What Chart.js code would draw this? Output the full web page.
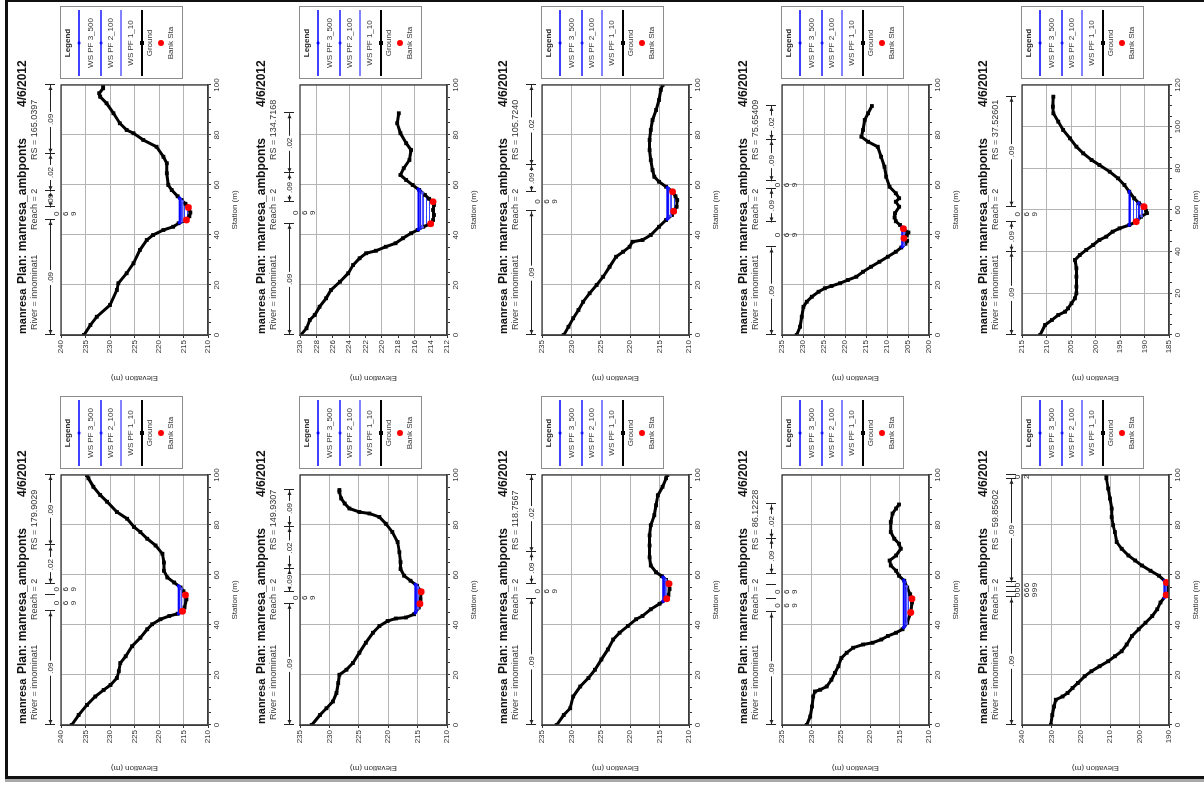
<!DOCTYPE html>
<html>
<head>
<meta charset="utf-8">
<script src="https://cdn.jsdelivr.net/npm/chart.js@4.4.1/dist/chart.umd.min.js"></script>
<style>
  html, body { margin: 0; padding: 0; background: #fff; width: 1204px; height: 785px; overflow: hidden; }
  /* the sheet is laid out upright (785 x 1204) and turned a quarter turn to the left */
  #sheet { position: absolute; left: 0; top: 0; width: 785px; height: 1204px;
           transform-origin: 0 0; transform: translateY(785px) rotate(-90deg); }
  .panel { position: absolute; width: 390px; height: 240px; }
  .panel canvas { display: block; }
  #frame { position: absolute; left: 5px; top: 0; width: 1199px; height: 779px; box-sizing: border-box;
           border-left: 3px solid #111; border-top: 2px solid #111; border-bottom: 3px solid #111; }
  #edge { position: absolute; left: 5px; top: 779px; width: 1199px; height: 3px; background: #a9a9a9; }
</style>
</head>
<body>
<div id="sheet"></div>
<div id="frame"></div>
<div id="edge"></div>
<script>
// ---- common header text ----
const PROJECT = 'manresa';
const PLAN = 'manresa_ambponts';
const PLAN_DATE = '4/6/2012';
const RIVER = 'innominat1';
const REACH = '2';
const PROFILES = ['WS PF 3_500', 'WS PF 2_100', 'WS PF 1_10'];

// ---- RS 179.9029 ----
const sta179 = [0, 4, 8, 11.4, 14, 16, 18.8, 21.5, 24.8, 27.5, 31.5, 34.9, 38.3, 40.3, 42.3, 43.6, 44.5, 45.5, 47, 50.3, 52, 53.5, 55, 57, 59, 61.7, 65, 68.5, 71.8, 74.5, 77.2, 79.2, 82.5, 85.2, 89.3, 92, 95.3, 98.7, 100];
const elev179 = [237.8, 236.4, 234.7, 233.0, 231.3, 229.9, 228.6, 228.2, 227.9, 226.8, 225.5, 223.8, 222.4, 221.4, 219.7, 217.9, 216.2, 215.2, 214.8, 214.4, 214.6, 215.0, 215.6, 216.9, 218.3, 219.0, 219.0, 219.3, 220.7, 222.4, 223.8, 225.1, 226.5, 228.6, 230.6, 232.0, 233.4, 234.4, 234.7];
const bankSta179 = [45.5, 52], bankElev179 = [215.2, 214.6];
const ws179 = [216.0, 215.8, 215.4], wsFrom179 = [44.6, 44.8, 45.2], wsTo179 = [55.6, 55.3, 54.5];
const nBreaks179 = [0, 45.5, 52, 56.5, 71.8, 100], nVals179 = ['.09', '069', '069', '.02', '.09'];
const yAxis179 = [210, 240, 5, 5];

// ---- RS 165.0397 ----
const sta165 = [0, 4, 7.3, 12, 18, 20.7, 24.7, 28.7, 34, 38, 40, 42, 43.3, 44.7, 46, 47.5, 49, 51, 52.5, 54, 55.5, 58, 60, 64.7, 68.7, 71.3, 75.3, 78, 80.7, 82, 84.7, 88.7, 92.7, 95.3, 96.7, 98.7, 100];
const elev165 = [235.3, 234.0, 232.7, 230.0, 228.6, 228.3, 226.6, 225.2, 223.9, 222.5, 221.2, 219.1, 217.1, 216.0, 214.4, 213.8, 213.6, 214.0, 214.6, 215.4, 216.2, 217.4, 218.1, 218.4, 218.4, 219.1, 220.5, 223.2, 225.2, 226.6, 228.0, 229.3, 230.7, 232.0, 232.2, 231.4, 231.4];
const bankSta165 = [46, 51], bankElev165 = [214.4, 214.0];
const ws165 = [215.8, 215.6, 215.2], wsFrom165 = [44.9, 45.2, 45.6], wsTo165 = [54.7, 54.3, 53.5];
const nBreaks165 = [0, 46, 51, 57.5, 72.5, 100], nVals165 = ['.09', '069', '.09', '.02', '.09'];
const yAxis165 = [210, 240, 5, 5];

// ---- RS 149.9307 ----
const sta149 = [0, 4, 6.7, 9.4, 12.8, 16.8, 20.1, 22.1, 24.8, 28.9, 32.9, 36.9, 39.6, 41.6, 42.6, 43, 44.3, 47, 48.5, 50.3, 53.3, 55.7, 57.7, 59.7, 62.4, 65.1, 69.1, 73.2, 77.2, 80.5, 83.2, 84.6, 85.2, 86.6, 88.6, 90.6, 93.3, 94];
const elev149 = [233.0, 231.6, 230.5, 229.4, 228.8, 228.5, 228.3, 227.1, 226.0, 224.9, 223.8, 222.6, 221.5, 220.1, 218.7, 217.0, 215.6, 214.8, 214.6, 214.5, 214.4, 215.1, 216.2, 217.3, 217.9, 217.9, 218.1, 218.4, 219.3, 220.4, 221.5, 223.2, 224.9, 226.6, 227.4, 228.0, 228.3, 228.3];
const bankSta149 = [48.5, 53.3], bankElev149 = [214.6, 214.4];
const ws149 = [215.4, 215.2, 214.9], wsFrom149 = [44.9, 45.6, 46.7], wsTo149 = [56.2, 55.9, 55.0];
const nBreaks149 = [0, 48.5, 53.3, 62.4, 79.2, 94], nVals149 = ['.09', '069', '.09', '.02', '.09'];
const yAxis149 = [210, 235, 5, 5];

// ---- RS 134.7168 ----
const sta134 = [0, 2.7, 6, 8, 11.3, 14.7, 18, 21.3, 24.7, 28, 30.7, 32.7, 33.7, 35.3, 36.7, 38.7, 40.7, 42, 43.3, 44.5, 46, 48, 50, 52, 53.3, 54.5, 56, 58, 60, 62, 64, 66.7, 70, 74, 76.7, 80.7, 84.7, 88.7];
const elev134 = [229.9, 229.2, 228.8, 228.2, 227.6, 226.8, 226.2, 225.1, 224.1, 223.5, 222.7, 221.9, 220.7, 219.5, 218.3, 217.4, 216.4, 215.6, 214.9, 214.0, 213.7, 213.6, 213.7, 213.6, 213.7, 214.2, 214.7, 215.4, 216.2, 217.0, 217.7, 217.3, 216.6, 216.4, 217.0, 217.7, 218.1, 217.9];
const bankSta134 = [44.5, 53.3], bankElev134 = [214.0, 213.7];
const ws134 = [215.5, 215.3, 215.0], wsFrom134 = [42.2, 42.6, 43.1], wsTo134 = [58.3, 57.7, 56.9];
const nBreaks134 = [0, 44.5, 53.3, 64.7, 88.7], nVals134 = ['.09', '069', '.09', '.02'];
const yAxis134 = [212, 230, 2, 4];

// ---- RS 118.7567 ----
const sta118 = [0, 4, 6.7, 11.4, 15.4, 18.8, 22.1, 26.2, 30.2, 34.2, 36.9, 39.6, 42.3, 43.6, 46.3, 48.5, 50.5, 52, 54.4, 56.5, 58, 59.5, 61.1, 63.8, 67.1, 71.8, 75.8, 79.9, 83.9, 87.9, 91.9, 95.3, 98.7, 100];
const elev118 = [232.5, 231.3, 230.2, 229.7, 228.5, 227.1, 226.0, 224.9, 223.8, 222.9, 221.8, 220.4, 219.0, 217.9, 216.5, 215.0, 213.8, 213.5, 213.3, 213.4, 213.9, 214.6, 215.6, 216.5, 216.7, 216.7, 216.7, 216.5, 215.9, 215.6, 215.3, 214.5, 213.9, 213.7];
const bankSta118 = [50.5, 56.5], bankElev118 = [213.8, 213.4];
const ws118 = [214.4, 214.2, 213.9], wsFrom118 = [49.5, 49.8, 50.3], wsTo118 = [59.1, 58.6, 58.0];
const nBreaks118 = [0, 50.5, 56.5, 69.1, 100], nVals118 = ['.09', '069', '.09', '.02'];
const yAxis118 = [210, 235, 5, 5];

// ---- RS 105.7240 ----
const sta105 = [0, 3.3, 6.7, 10, 13.3, 16.7, 20, 23.3, 27.3, 31.3, 33.3, 35.3, 37.3, 38, 40, 43.3, 46, 48, 49.5, 51.3, 54, 55.5, 57.3, 59.3, 61.3, 63.3, 66, 70, 74, 78, 82, 86, 90, 94, 98, 100];
const elev105 = [231.3, 230.5, 229.7, 228.8, 228.0, 226.9, 225.7, 224.6, 223.5, 222.4, 221.2, 220.1, 219.6, 217.9, 216.5, 215.1, 213.9, 212.9, 212.6, 212.1, 212.0, 212.3, 212.8, 213.9, 215.1, 215.9, 216.2, 216.5, 216.7, 216.7, 216.5, 216.2, 215.6, 215.1, 214.8, 214.5];
const bankSta105 = [49.5, 57.3], bankElev105 = [212.6, 212.8];
const ws105 = [213.7, 213.5, 213.1], wsFrom105 = [46.4, 46.8, 47.6], wsTo105 = [58.9, 58.6, 57.8];
const nBreaks105 = [0, 49.5, 57.3, 68, 100], nVals105 = ['.09', '069', '.09', '.02'];
const yAxis105 = [210, 235, 5, 5];

// ---- RS 86.12228 ----
const sta86 = [0, 3.4, 7.4, 11.4, 13.4, 14.1, 15.4, 18.1, 20.8, 23.5, 26.8, 28.9, 30.9, 32.2, 32.9, 34.2, 35.6, 36.9, 38.3, 40.9, 45, 49, 50.5, 52.3, 55, 57.7, 59.7, 61.7, 63.8, 65.8, 67.8, 70.5, 72.5, 74.5, 77.2, 81.2, 84.6, 86.6, 88.2];
const elev86 = [230.8, 230.2, 229.9, 229.7, 229.4, 228.5, 227.4, 226.6, 226.0, 225.4, 224.9, 224.0, 222.9, 221.2, 219.6, 218.1, 217.0, 215.6, 214.5, 213.7, 213.1, 212.9, 212.9, 213.2, 213.7, 214.2, 215.1, 215.6, 216.5, 216.7, 215.6, 214.8, 215.1, 215.9, 216.5, 216.5, 216.2, 215.6, 215.1];
const bankSta86 = [45, 50.5], bankElev86 = [213.1, 212.9];
const ws86 = [214.3, 214.1, 213.8], wsFrom86 = [39.0, 39.6, 40.6], wsTo86 = [57.9, 57.2, 55.5];
const nBreaks86 = [0, 45, 50.5, 56, 60.5, 74.5, 88.2], nVals86 = ['.09', '069', '069', '', '.09', '.02'];
const yAxis86 = [210, 235, 5, 5];

// ---- RS 75.65409 ----
const sta75 = [0, 3.3, 7.3, 11.3, 13.3, 15.3, 17.3, 18.7, 19.6, 20.7, 22, 23.3, 25.3, 27.3, 29.3, 31.3, 33.3, 35, 36.5, 37.7, 38.7, 39.8, 41, 42.5, 44, 45.5, 47, 48.7, 51.3, 53.3, 54.7, 56.7, 59.3, 63.3, 67.3, 71.3, 75.3, 77.3, 79.3, 82, 86, 88.7, 91.6];
const elev75 = [231.5, 230.7, 230.3, 229.9, 229.1, 227.9, 226.3, 224.8, 223.2, 221.2, 219.3, 217.3, 215.7, 213.8, 211.8, 209.8, 207.9, 206.6, 205.6, 205.2, 206.0, 205.3, 204.9, 206.1, 206.9, 207.9, 208.2, 208.1, 207.1, 207.9, 207.1, 207.9, 209.4, 210.2, 210.6, 211.4, 212.2, 214.5, 216.1, 215.7, 215.3, 214.5, 213.6];
const bankSta75 = [38.7, 42.5], bankElev75 = [206.0, 206.1];
const ws75 = [206.4, 206.2, 205.9], wsFrom75 = [35.3, 35.6, 36.1], wsTo75 = [43.1, 42.7, 42.3];
const nBreaks75 = [0, 35, 45, 58.5, 61.5, 78, 91.6], nVals75 = ['.09', '069', '.09', '069', '.09', '.02'];
const yAxis75 = [200, 235, 5, 5];

// ---- RS 59.85602 ----
const sta59 = [0, 4, 7.4, 10.1, 11.4, 12.8, 14.8, 16.8, 19.5, 21.5, 23.5, 25.5, 27.5, 29.5, 32.2, 35.6, 38.3, 40.9, 43.6, 46.3, 49, 52, 54.4, 57, 59.7, 61.7, 63.8, 65.8, 67.8, 70.5, 73.2, 77.2, 79.9, 83.2, 86.6, 90.6, 94.6, 98.7, 100];
const elev59 = [230.2, 229.7, 229.1, 228.5, 226.2, 224.5, 222.8, 221.0, 218.7, 216.4, 213.6, 210.7, 208.4, 206.1, 204.4, 202.6, 200.3, 198.0, 195.7, 194.0, 192.9, 191.0, 190.2, 190.9, 193.4, 196.3, 199.2, 201.5, 203.8, 206.1, 207.8, 208.4, 209.0, 209.5, 209.5, 210.1, 210.7, 211.3, 211.3];
const bankSta59 = [52, 57], bankElev59 = [191.0, 190.9];
const ws59 = [191.6, 191.3, 190.9], wsFrom59 = [51.0, 51.5, 52.3], wsTo59 = [57.7, 57.4, 57.0];
const nBreaks59 = [0, 51, 53, 55, 57, 98.5, 100], nVals59 = ['.09', '069', '069', '069', '.09', '02'];
const yAxis59 = [190, 240, 10, 10];

// ---- RS 37.52601 ----
const sta37 = [0, 4.8, 7.2, 9.6, 11.2, 12.8, 15.2, 17.6, 20, 23.2, 28, 32, 36, 38.4, 40.8, 43.2, 45.6, 47.2, 49.6, 51.2, 52.8, 54.4, 56.8, 58.5, 59.7, 61.6, 63.2, 65.6, 68.8, 72, 75.2, 78.4, 81.6, 84, 87.2, 90.4, 94.4, 98.4, 102.4, 106.4, 109.6, 114.4];
const elev37 = [211.3, 210.3, 208.9, 207.6, 206.2, 205.6, 204.9, 204.2, 203.9, 203.9, 203.9, 203.9, 204.2, 203.2, 201.9, 200.5, 199.2, 197.8, 196.5, 195.1, 193.1, 191.7, 190.7, 189.5, 189.7, 190.1, 191.1, 192.1, 193.1, 194.1, 195.4, 197.1, 199.2, 200.8, 202.5, 203.9, 205.2, 206.6, 207.6, 208.6, 208.7, 208.6];
const bankSta37 = [54.4, 61.6], bankElev37 = [191.7, 190.1];
const ws37 = [193.1, 191.2, 190.6], wsFrom37 = [52.8, 55.6, 57.0], wsTo37 = [68.8, 63.4, 62.4];
const nBreaks37 = [0, 40, 54.4, 61.6, 114.4], nVals37 = ['.09', '.09', '069', '.09'];
const yAxis37 = [185, 215, 5, 5];

// ---- sheet layout: [rs, stations, elevations, bank stations, bank elevations, ws, ws from, ws to, n breaks, n values, y axis, station max, column, row]
const sections = [
  ['179.9029', sta179, elev179, bankSta179, bankElev179, ws179, wsFrom179, wsTo179, nBreaks179, nVals179, yAxis179, 100, 0, 0],
  ['165.0397', sta165, elev165, bankSta165, bankElev165, ws165, wsFrom165, wsTo165, nBreaks165, nVals165, yAxis165, 100, 1, 0],
  ['149.9307', sta149, elev149, bankSta149, bankElev149, ws149, wsFrom149, wsTo149, nBreaks149, nVals149, yAxis149, 100, 0, 1],
  ['134.7168', sta134, elev134, bankSta134, bankElev134, ws134, wsFrom134, wsTo134, nBreaks134, nVals134, yAxis134, 100, 1, 1],
  ['118.7567', sta118, elev118, bankSta118, bankElev118, ws118, wsFrom118, wsTo118, nBreaks118, nVals118, yAxis118, 100, 0, 2],
  ['105.7240', sta105, elev105, bankSta105, bankElev105, ws105, wsFrom105, wsTo105, nBreaks105, nVals105, yAxis105, 100, 1, 2],
  ['86.12228', sta86, elev86, bankSta86, bankElev86, ws86, wsFrom86, wsTo86, nBreaks86, nVals86, yAxis86, 100, 0, 3],
  ['75.65409', sta75, elev75, bankSta75, bankElev75, ws75, wsFrom75, wsTo75, nBreaks75, nVals75, yAxis75, 100, 1, 3],
  ['59.85602', sta59, elev59, bankSta59, bankElev59, ws59, wsFrom59, wsTo59, nBreaks59, nVals59, yAxis59, 100, 0, 4],
  ['37.52601', sta37, elev37, bankSta37, bankElev37, ws37, wsFrom37, wsTo37, nBreaks37, nVals37, yAxis37, 120, 1, 4]
];

const COL_LEFT = [3, 393];
const ROW_TOP = [10, 249, 491, 731, 971];

const FONT = '"Liberation Sans", Arial, sans-serif';
const WS_COLORS = ['#0000ff', '#1a1aff', '#5a5aff'];
const GRID = '#b4b4b4';

// hatch used for the wetted area
function hatchPattern() {
  const c = document.createElement('canvas');
  c.width = 4; c.height = 3;
  const g = c.getContext('2d');
  g.fillStyle = '#3344ff';
  g.fillRect(0, 0, 4, 1);
  return g.createPattern(c, 'repeat');
}

function arrowHead(ctx, x, y, dir) {
  ctx.beginPath();
  ctx.moveTo(x, y);
  ctx.lineTo(x - dir * 4, y - 2);
  ctx.lineTo(x - dir * 4, y + 2);
  ctx.closePath();
  ctx.fill();
}

// titles, Manning's n strip, plot frame and the boxed legend
const sectionDecor = {
  id: 'sectionDecor',
  afterDraw(chart, _args, opts) {
    const { ctx, chartArea: a } = chart;
    const xs = chart.scales.x;
    ctx.save();

    ctx.strokeStyle = '#3c3c3c';
    ctx.lineWidth = 1.3;
    ctx.strokeRect(a.left, a.top, a.right - a.left, a.bottom - a.top);

    // heading
    ctx.textBaseline = 'middle';
    ctx.textAlign = 'left';
    ctx.fillStyle = '#111';
    ctx.font = 'bold 11px ' + FONT;
    ctx.fillText(PROJECT, a.left + 1, 13);
    ctx.font = 'bold 12px ' + FONT;
    ctx.fillText('Plan: ' + PLAN, a.left + 51, 13);
    ctx.fillText(PLAN_DATE, a.left + 228, 13);
    ctx.font = '9px ' + FONT;
    ctx.fillStyle = '#333';
    ctx.fillText('River = ' + RIVER, a.left + 5, 25);
    ctx.fillText('Reach = ' + REACH, a.left + 105, 25);
    ctx.fillText('RS = ' + opts.rs, a.left + 175, 25);

    // Manning's n strip
    const yL = a.top - 11;
    const br = opts.breaks, nv = opts.nvals;
    ctx.strokeStyle = '#222';
    ctx.fillStyle = '#222';
    ctx.lineWidth = 1;
    br.forEach(b => {
      const px = Math.round(xs.getPixelForValue(b)) + 0.5;
      ctx.beginPath(); ctx.moveTo(px, yL - 5); ctx.lineTo(px, yL + 5); ctx.stroke();
    });
    ctx.font = '8px ' + FONT;
    for (let i = 0; i < nv.length; i++) {
      const x0 = xs.getPixelForValue(br[i]), x1 = xs.getPixelForValue(br[i + 1]);
      const lab = nv[i];
      if (!lab) continue;
      if (lab[0] !== '.') {
        // narrow reach: digits written downwards
        const cx = (x0 + x1) / 2;
        ctx.textAlign = 'center';
        lab.split('').forEach((ch, k) => ctx.fillText(ch, cx, yL + 7 + k * 8.5));
        continue;
      }
      const cx = (x0 + x1) / 2;
      const w = ctx.measureText(lab).width;
      ctx.beginPath();
      ctx.moveTo(x0, yL + 0.5); ctx.lineTo(cx - w / 2 - 2, yL + 0.5);
      ctx.moveTo(cx + w / 2 + 2, yL + 0.5); ctx.lineTo(x1, yL + 0.5);
      ctx.stroke();
      arrowHead(ctx, x0 + 1, yL + 0.5, -1);
      arrowHead(ctx, x1 - 1, yL + 0.5, 1);
      ctx.textAlign = 'center';
      ctx.fillText(lab, cx, yL + 0.5);
    }

    // legend box
    const lx = a.right + 6, lw = 72, ly = a.top - 1, lh = 122, cx = lx + lw / 2;
    ctx.strokeStyle = '#8c8c8c';
    ctx.lineWidth = 1;
    ctx.strokeRect(lx + 0.5, ly + 0.5, lw, lh);
    ctx.textAlign = 'center';
    ctx.fillStyle = '#222';
    ctx.font = 'bold 8px ' + FONT;
    ctx.fillText('Legend', cx, ly + 8);
    ctx.font = '8px ' + FONT;
    const ds = chart.data.datasets;
    const rows = [[ds[3], 19, 31], [ds[2], 41, 51], [ds[1], 61, 71], [ds[4], 82, 90]];
    rows.forEach(([d, lineY, textY]) => {
      ctx.strokeStyle = d.borderColor;
      ctx.lineWidth = d.label === 'Ground' ? 2 : 1.5;
      ctx.beginPath(); ctx.moveTo(lx + 3, ly + lineY); ctx.lineTo(lx + lw - 3, ly + lineY); ctx.stroke();
      ctx.fillStyle = d.borderColor;
      if (d.label === 'Ground') ctx.fillRect(cx - 2, ly + lineY - 2, 4, 4);
      else if (d.label !== PROFILES[2]) { ctx.beginPath(); ctx.arc(cx, ly + lineY, 1.6, 0, Math.PI * 2); ctx.fill(); }
      ctx.fillStyle = '#333';
      ctx.fillText(d.label, cx, ly + textY);
    });
    ctx.fillStyle = '#ff0000';
    ctx.beginPath(); ctx.arc(cx, ly + 101, 3, 0, Math.PI * 2); ctx.fill();
    ctx.fillStyle = '#333';
    ctx.fillText(ds[0].label, cx, ly + 111);

    ctx.restore();
  }
};

const sheet = document.getElementById('sheet');
const hatch = hatchPattern();

sections.forEach(([rs, sta, elev, bSta, bElev, ws, wsFrom, wsTo, breaks, nvals, yAxis, xMax, col, row]) => {
  const box = document.createElement('div');
  box.className = 'panel';
  box.style.left = COL_LEFT[col] + 'px';
  box.style.top = ROW_TOP[row] + 'px';
  const cv = document.createElement('canvas');
  cv.width = 390; cv.height = 240;
  box.appendChild(cv);
  sheet.appendChild(box);

  const ground = sta.map((s, i) => ({ x: s, y: elev[i] }));
  const banks = bSta.map((s, i) => ({ x: s, y: bElev[i] }));
  const wsLine = k => [{ x: wsFrom[k], y: ws[k] }, { x: wsTo[k], y: ws[k] }];
  const wetted = [{ x: wsFrom[0], y: ws[0] }]
    .concat(ground.filter(p => p.x > wsFrom[0] && p.x < wsTo[0]))
    .concat([{ x: wsTo[0], y: ws[0] }]);

  const [yMin, yMax, yStep, yGrid] = yAxis;
  const onStep = (v, st) => Math.abs(v / st - Math.round(v / st)) < 1e-6;

  new Chart(cv, {
    type: 'line',
    data: {
      datasets: [
        { label: 'Bank Sta', data: banks, showLine: false, pointStyle: 'circle', pointRadius: 3.4,
          backgroundColor: '#ff0000', borderColor: '#ff0000', pointBorderWidth: 0, order: 0 },
        { label: PROFILES[2], data: wsLine(2), borderColor: WS_COLORS[2], borderWidth: 1.5,
          pointRadius: 1.4, pointBackgroundColor: WS_COLORS[2], pointBorderWidth: 0, order: 1 },
        { label: PROFILES[1], data: wsLine(1), borderColor: WS_COLORS[1], borderWidth: 1.5,
          pointRadius: 1.6, pointBackgroundColor: WS_COLORS[1], pointBorderWidth: 0, order: 2 },
        { label: PROFILES[0], data: wsLine(0), borderColor: WS_COLORS[0], borderWidth: 1.8,
          pointRadius: 1.8, pointBackgroundColor: WS_COLORS[0], pointBorderWidth: 0, order: 3 },
        { label: 'Ground', data: ground, borderColor: '#000', backgroundColor: '#000', borderWidth: 3,
          pointStyle: 'rect', pointRadius: 2.7, pointBorderWidth: 0, pointBackgroundColor: '#000', order: 4 },
        { label: 'wetted', data: wetted, fill: 'shape', backgroundColor: hatch, borderWidth: 0,
          borderColor: 'rgba(0,0,0,0)', pointRadius: 0, order: 5 }
      ]
    },
    options: {
      responsive: false,
      animation: false,
      devicePixelRatio: 1,
      layout: { padding: { left: 2, top: 51, right: 83, bottom: 0 } },
      plugins: {
        legend: { display: false },
        tooltip: { enabled: false },
        sectionDecor: { rs, breaks, nvals }
      },
      scales: {
        x: {
          type: 'linear', min: 0, max: xMax,
          afterFit(s) { s.height = 42; },
          ticks: { stepSize: 5, autoSkip: false, maxRotation: 0, padding: 1, color: '#333',
                   font: { family: FONT, size: 8 },
                   callback: v => (onStep(v, 20) ? String(v) : '') },
          grid: { color: c => (c.tick && onStep(c.tick.value, 20) ? GRID : 'rgba(0,0,0,0)'),
                  tickColor: '#333', tickLength: 3, lineWidth: 1 },
          border: { color: '#3c3c3c', width: 1.3 },
          title: { display: true, text: 'Station (m)', color: '#333', font: { family: FONT, size: 8 },
                   padding: { top: 0, bottom: 10 } }
        },
        y: {
          min: yMin, max: yMax,
          afterFit(s) { s.width = 55; },
          ticks: { stepSize: yStep, autoSkip: false, padding: 2, color: '#333', font: { family: FONT, size: 8 } },
          grid: { color: c => (c.tick && onStep(c.tick.value, yGrid) ? GRID : 'rgba(0,0,0,0)'),
                  tickColor: '#333', tickLength: 3, lineWidth: 1 },
          border: { color: '#3c3c3c', width: 1.3 },
          title: { display: true, text: 'Elevation (m)', color: '#333', font: { family: FONT, size: 8 },
                   padding: { top: 7, bottom: 0 } }
        }
      }
    },
    plugins: [sectionDecor]
  });
});
</script>
</body>
</html>
